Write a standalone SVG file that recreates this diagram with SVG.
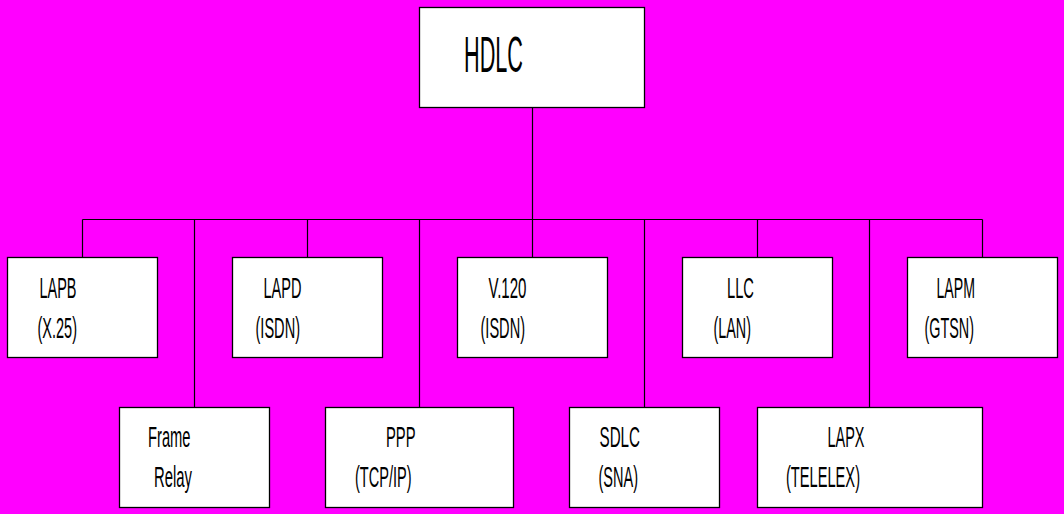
<svg xmlns="http://www.w3.org/2000/svg" width="1064" height="514" viewBox="0 0 1064 514">
<style>
.box{fill:#fff;stroke:#000;stroke-width:1.3}
.conn{stroke:#000;stroke-width:1.2;fill:none}
text{font-family:"Liberation Sans",Arial,sans-serif;font-size:29.5px;fill:#000}
.big{font-size:50px}
</style>
<rect width="1064" height="514" fill="#FF00FF"/>
<g id="connectors" class="conn">
<path d="M532.5 107.5V219.5M82.5 219.5H982.5"/>
<path d="M82.5 219.5V257.5M307.5 219.5V257.5M532.5 219.5V257.5M757.5 219.5V257.5M982.5 219.5V257.5"/>
<path d="M194.5 219.5V407.5M419.5 219.5V407.5M644.5 219.5V407.5M869.5 219.5V407.5"/>
</g>
<g id="hdlc"><rect class="box" x="419.5" y="7.5" width="225" height="100"/><text class="big" x="464" y="72" textLength="59" lengthAdjust="spacingAndGlyphs">HDLC</text></g>
<g id="lapb"><rect class="box" x="7.5" y="257.5" width="150" height="100"/><text x="39.5" y="297.5" textLength="37" lengthAdjust="spacingAndGlyphs">LAPB</text><text x="37.5" y="337.5" textLength="39.5" lengthAdjust="spacingAndGlyphs">(X.25)</text></g>
<g id="lapd"><rect class="box" x="232.5" y="257.5" width="150" height="100"/><text x="263.5" y="297.5" textLength="38" lengthAdjust="spacingAndGlyphs">LAPD</text><text x="255.5" y="337.5" textLength="44.5" lengthAdjust="spacingAndGlyphs">(ISDN)</text></g>
<g id="v120"><rect class="box" x="457.5" y="257.5" width="150" height="100"/><text x="488.5" y="297.5" textLength="38" lengthAdjust="spacingAndGlyphs">V.120</text><text x="480.5" y="337.5" textLength="44.5" lengthAdjust="spacingAndGlyphs">(ISDN)</text></g>
<g id="llc"><rect class="box" x="682.5" y="257.5" width="150" height="100"/><text x="727" y="297.5" textLength="27" lengthAdjust="spacingAndGlyphs">LLC</text><text x="713.5" y="337.5" textLength="37.5" lengthAdjust="spacingAndGlyphs">(LAN)</text></g>
<g id="lapm"><rect class="box" x="907.5" y="257.5" width="150" height="100"/><text x="936.5" y="297.5" textLength="38.5" lengthAdjust="spacingAndGlyphs">LAPM</text><text x="924.5" y="337.5" textLength="49.5" lengthAdjust="spacingAndGlyphs">(GTSN)</text></g>
<g id="frame-relay"><rect class="box" x="119.5" y="407.5" width="150" height="100"/><text x="148" y="447" textLength="42.5" lengthAdjust="spacingAndGlyphs">Frame</text><text x="154" y="487" textLength="38" lengthAdjust="spacingAndGlyphs">Relay</text></g>
<g id="ppp"><rect class="box" x="325.5" y="407.5" width="188" height="100"/><text x="386" y="447" textLength="29.5" lengthAdjust="spacingAndGlyphs">PPP</text><text x="355" y="487" textLength="56.5" lengthAdjust="spacingAndGlyphs">(TCP/IP)</text></g>
<g id="sdlc"><rect class="box" x="569.5" y="407.5" width="150" height="100"/><text x="599.5" y="447" textLength="40.5" lengthAdjust="spacingAndGlyphs">SDLC</text><text x="598.5" y="487" textLength="39.5" lengthAdjust="spacingAndGlyphs">(SNA)</text></g>
<g id="lapx"><rect class="box" x="757.5" y="407.5" width="225" height="100"/><text x="827.5" y="447" textLength="37" lengthAdjust="spacingAndGlyphs">LAPX</text><text x="786" y="487" textLength="74" lengthAdjust="spacingAndGlyphs">(TELELEX)</text></g>
</svg>
